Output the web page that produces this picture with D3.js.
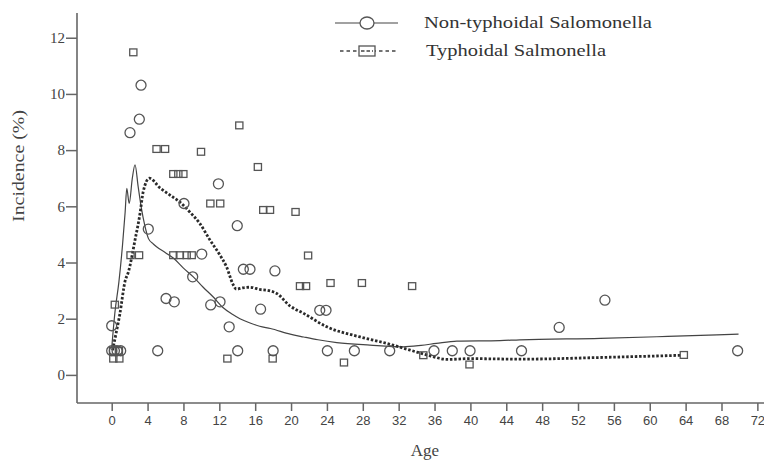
<!DOCTYPE html>
<html>
<head>
<meta charset="utf-8">
<script src="https://cdn.jsdelivr.net/npm/d3@7"></script>
<style>
  html, body { margin: 0; padding: 0; background: #fff; }
  svg { display: block; }
</style>
</head>
<body>
<svg id="chart" width="764" height="461"></svg>
<script>
// ---- Data ----
const xTicks = [0, 4, 8, 12, 16, 20, 24, 28, 32, 36, 40, 44, 48, 52, 56, 60, 64, 68, 72];
const yTicks = [0, 2, 4, 6, 8, 10, 12];
const seriesNames = ["Non-typhoidal Salomonella", "Typhoidal Salmonella"];

// Non-typhoidal observations (circles): [age, incidence]
const nonTyphoidalPoints = [
  [0, 0.86], [0.3, 0.86], [0.6, 0.86], [1.0, 0.86], [0, 1.75],
  [2.04, 8.62], [3.08, 9.1], [3.27, 10.31],
  [4.08, 5.19], [5.13, 0.86], [6.06, 2.72], [6.98, 2.6],
  [8.06, 6.1], [9.03, 3.49], [10.04, 4.3], [11.04, 2.49], [11.9, 6.8], [12.08, 2.6],
  [13.1, 1.71], [14.0, 5.31], [14.05, 0.86], [14.68, 3.76], [15.42, 3.76],
  [16.6, 2.34], [18.0, 0.86], [18.2, 3.7], [23.2, 2.3], [23.9, 2.3],
  [24.05, 0.86], [27.06, 0.86], [31.0, 0.86], [35.94, 0.86], [37.98, 0.86],
  [39.96, 0.86], [45.7, 0.86], [49.9, 1.69], [55.0, 2.66], [69.8, 0.86]
];

// Typhoidal observations (squares): [age, incidence]
const typhoidalPoints = [
  [0.18, 0.58], [0.85, 0.58], [0.15, 0.86], [0.8, 0.86], [0.35, 2.5],
  [2.1, 4.26], [3.05, 4.26], [2.41, 11.48],
  [5.0, 8.04], [5.95, 8.04],
  [6.87, 7.15], [7.43, 7.15], [7.99, 7.15],
  [6.87, 4.26], [7.6, 4.26], [8.36, 4.26], [8.92, 4.26],
  [9.96, 7.94], [11.0, 6.1], [12.1, 6.1], [12.9, 0.58],
  [14.23, 8.88], [16.3, 7.4], [16.9, 5.87], [17.65, 5.87], [17.95, 0.58],
  [20.5, 5.8], [21.0, 3.16], [21.67, 3.16], [21.9, 4.25], [24.4, 3.27],
  [25.9, 0.44], [27.9, 3.27], [33.5, 3.16], [34.75, 0.7], [39.9, 0.37], [63.8, 0.71]
];

// Smoothed fit, non-typhoidal (solid line)
const nonTyphoidalFit = [
  [0, 0.95], [0.35, 2.2], [0.8, 3.3], [1.2, 4.6], [1.5, 5.8], [1.68, 6.64],
  [1.95, 6.1], [2.3, 7.0], [2.6, 7.48], [2.95, 6.7], [3.3, 5.95], [3.7, 5.3],
  [4.1, 4.85], [4.64, 4.66], [5.0, 4.56], [6.0, 4.35], [6.9, 4.15], [8.0, 3.8],
  [9.1, 3.49], [10.2, 3.12], [11.3, 2.78], [12.4, 2.4], [13.5, 2.15], [14.3, 2.0],
  [15.5, 1.84], [16.5, 1.73], [17.7, 1.65], [19.9, 1.45], [21.4, 1.35], [23.0, 1.25],
  [25.1, 1.15], [28.8, 1.06], [32.5, 1.0], [34.5, 1.05], [36.2, 1.12], [38.5, 1.2],
  [43.3, 1.22], [45.5, 1.25], [54.5, 1.3], [62.0, 1.37], [69.9, 1.45]
];

// Smoothed fit, typhoidal (dotted line)
const typhoidalFit = [
  [0.1, 0.88], [0.5, 1.5], [0.9, 2.15], [1.5, 3.35], [1.85, 3.65], [2.6, 4.8],
  [3.16, 5.75], [3.5, 6.5], [4.2, 7.0], [5.4, 6.65], [6.5, 6.4], [7.6, 6.15],
  [8.7, 5.8], [9.8, 5.4], [10.96, 4.8], [12.0, 4.3], [12.8, 3.85], [13.56, 3.2],
  [13.9, 3.05], [14.6, 3.1], [15.4, 3.12], [16.5, 3.04], [17.5, 3.0], [18.4, 2.9],
  [19.9, 2.45], [21.4, 2.19], [24.0, 1.71], [27.7, 1.35], [30.7, 1.12], [33.3, 0.88],
  [35.5, 0.68], [37.4, 0.55], [40.0, 0.58], [42.6, 0.57], [45.5, 0.56], [54.5, 0.62],
  [63.6, 0.7]
];

// ---- Drawing ----
const svg = d3.select("#chart");
const serif = "'Liberation Serif', 'Times New Roman', serif";
const sans = "'Liberation Sans', Arial, sans-serif";
const axisColor = "#666";
const markColor = "#555";

const x = d3.scaleLinear().domain([-3.87, 72.74]).range([77, 764]);
const y = d3.scaleLinear().domain([-1.0, 12.88]).range([403, 13]);

// Axes
const xAxis = svg.append("g").attr("transform", `translate(0,${y(-1)})`)
  .call(d3.axisBottom(x).tickValues(xTicks).tickSize(8).tickSizeOuter(0).tickPadding(5));
xAxis.select(".domain").remove();
xAxis.selectAll(".tick line").attr("stroke", axisColor).attr("stroke-width", 1.5);
xAxis.selectAll(".tick text").attr("font-family", sans).attr("font-size", 13).attr("fill", "#444");

const yAxis = svg.append("g").attr("transform", `translate(${x(-3.87)},0)`)
  .call(d3.axisLeft(y).tickValues(yTicks).tickSize(11).tickSizeOuter(0).tickPadding(1));
yAxis.select(".domain").remove();
yAxis.selectAll(".tick line").attr("stroke", axisColor).attr("stroke-width", 1.5);
yAxis.selectAll(".tick text").attr("font-family", serif).attr("font-size", 15).attr("fill", "#444");

// Axis lines
svg.append("line").attr("x1", x(-3.87)).attr("x2", x(-3.87))
  .attr("y1", y(12.88)).attr("y2", y(-1))
  .attr("stroke", axisColor).attr("stroke-width", 1.6);
svg.append("line").attr("x1", x(-3.87)).attr("x2", x(72.74))
  .attr("y1", y(-1)).attr("y2", y(-1))
  .attr("stroke", axisColor).attr("stroke-width", 1.6);

// Axis titles
svg.append("text").attr("x", 425).attr("y", 456).attr("text-anchor", "middle")
  .attr("font-family", serif).attr("font-size", 17).attr("fill", "#444").text("Age");
svg.append("text").attr("transform", "translate(24,166) rotate(-90)")
  .attr("text-anchor", "middle").attr("font-family", serif).attr("font-size", 17)
  .attr("fill", "#444").attr("textLength", 112).attr("lengthAdjust", "spacingAndGlyphs")
  .text("Incidence (%)");

// Lines
const line = d3.line().x(d => x(d[0])).y(d => y(d[1])).curve(d3.curveMonotoneX);
svg.append("path").datum(nonTyphoidalFit).attr("d", line)
  .attr("fill", "none").attr("stroke", "#444").attr("stroke-width", 1.2);
svg.append("path").datum(typhoidalFit).attr("d", line)
  .attr("fill", "none").attr("stroke", "#2a2a2a").attr("stroke-width", 2.8)
  .attr("stroke-dasharray", "2.5,1.8");

// Points
svg.append("g").selectAll("circle").data(nonTyphoidalPoints).join("circle")
  .attr("cx", d => x(d[0])).attr("cy", d => y(d[1])).attr("r", 5)
  .attr("fill", "none").attr("stroke", markColor).attr("stroke-width", 1.3);
svg.append("g").selectAll("rect").data(typhoidalPoints).join("rect")
  .attr("x", d => x(d[0]) - 3.6).attr("y", d => y(d[1]) - 3.4)
  .attr("width", 7.2).attr("height", 6.8)
  .attr("fill", "none").attr("stroke", markColor).attr("stroke-width", 1.3);

// Legend
const lg = svg.append("g");
lg.append("line").attr("x1", 335).attr("x2", 398).attr("y1", 23).attr("y2", 23)
  .attr("stroke", "#444").attr("stroke-width", 1.2);
lg.append("ellipse").attr("cx", 367).attr("cy", 23).attr("rx", 7).attr("ry", 6)
  .attr("fill", "#fff").attr("stroke", markColor).attr("stroke-width", 1.3);
lg.append("text").attr("x", 424).attr("y", 28).attr("font-family", serif)
  .attr("font-size", 16).attr("fill", "#333")
  .attr("textLength", 228).attr("lengthAdjust", "spacingAndGlyphs").text(seriesNames[0]);

lg.append("line").attr("x1", 340).attr("x2", 397).attr("y1", 51).attr("y2", 51)
  .attr("stroke", "#444").attr("stroke-width", 1.5).attr("stroke-dasharray", "3.5,3");
lg.append("rect").attr("x", 359).attr("y", 46).attr("width", 16).attr("height", 10)
  .attr("fill", "#fff").attr("stroke", markColor).attr("stroke-width", 1.3);
lg.append("line").attr("x1", 361).attr("x2", 373).attr("y1", 51).attr("y2", 51)
  .attr("stroke", "#444").attr("stroke-width", 1.3).attr("stroke-dasharray", "3.5,2");
lg.append("text").attr("x", 426).attr("y", 56).attr("font-family", serif)
  .attr("font-size", 16).attr("fill", "#333")
  .attr("textLength", 180).attr("lengthAdjust", "spacingAndGlyphs").text(seriesNames[1]);
</script>
</body>
</html>
